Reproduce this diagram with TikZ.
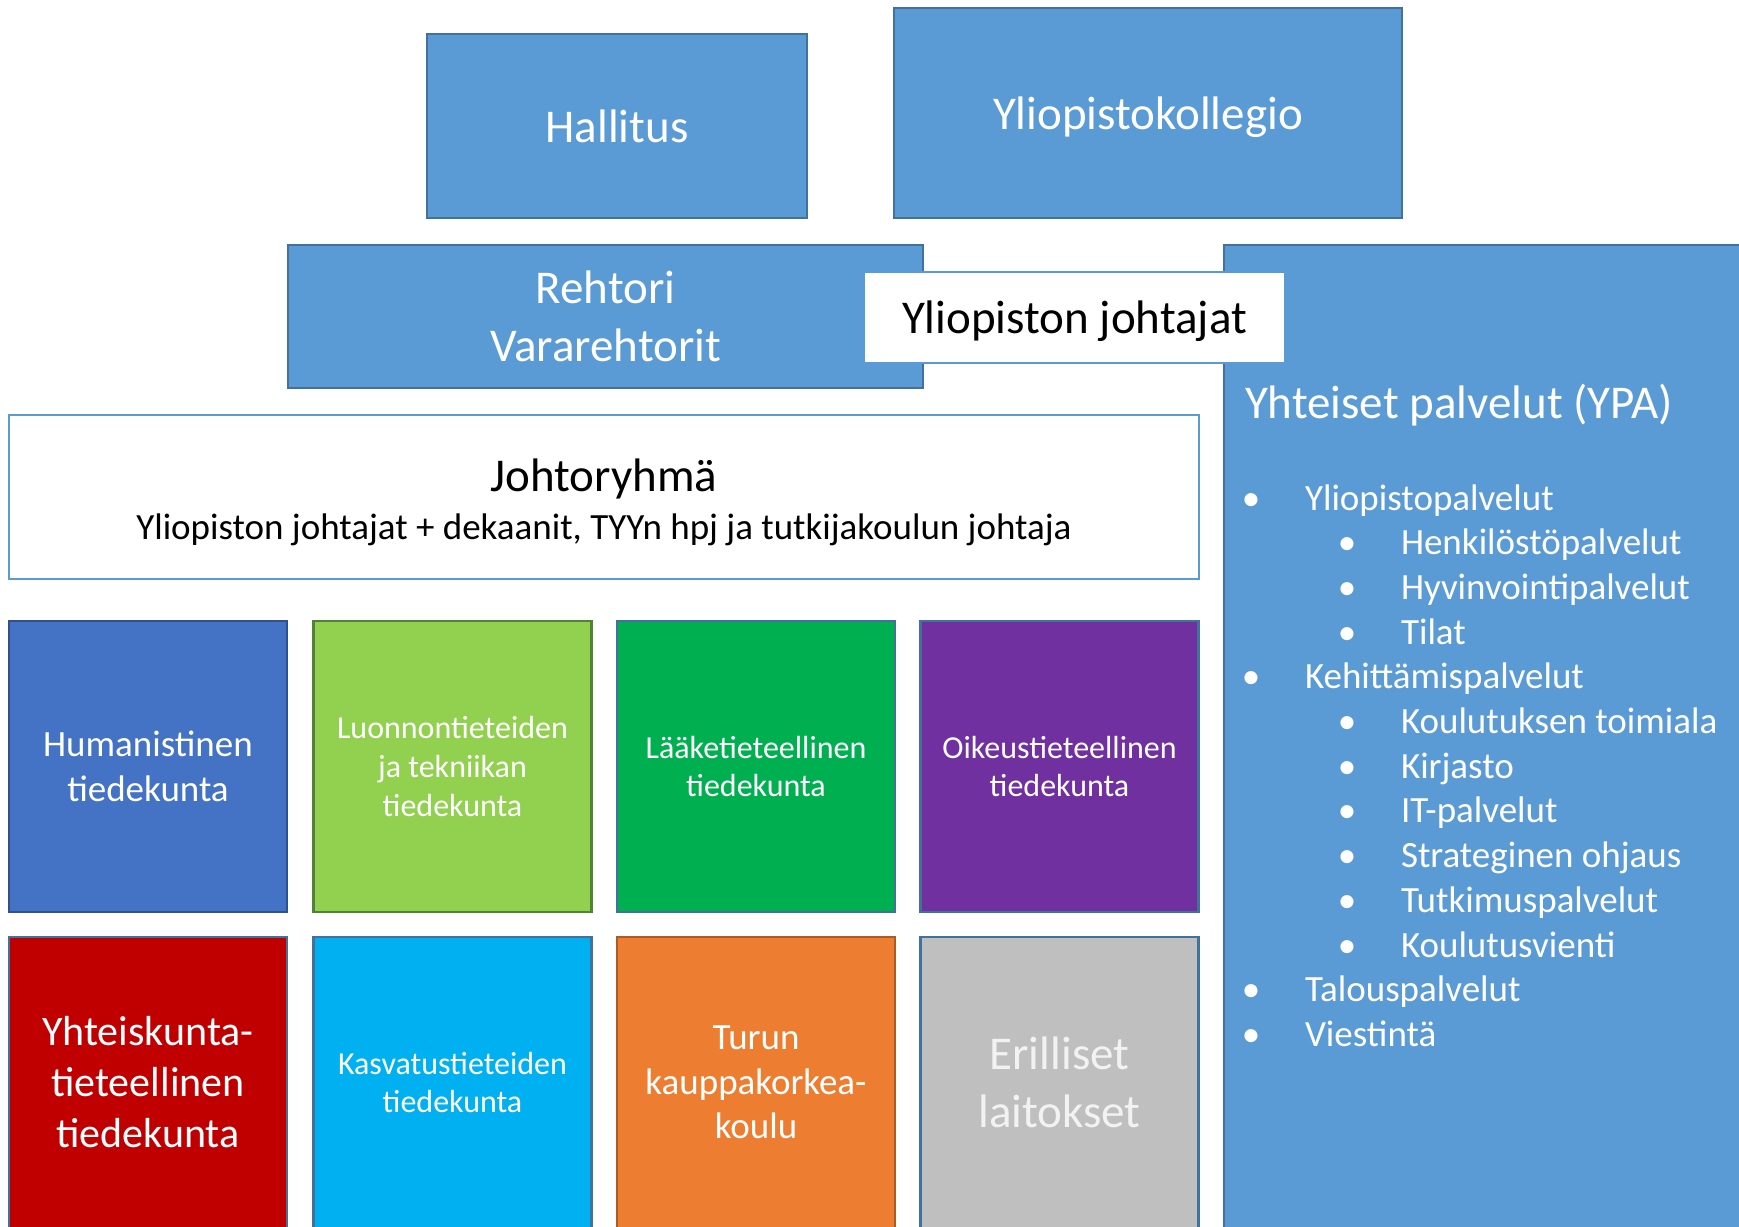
\documentclass[tikz,border=0pt]{standalone}
\usepackage{fontspec}
\setmainfont{Carlito}
\definecolor{ypablue}{HTML}{5B9BD5}
\definecolor{ypaedge}{HTML}{41719C}
\definecolor{humfill}{HTML}{4472C4}
\definecolor{humedge}{HTML}{2F528F}
\definecolor{luofill}{HTML}{92D050}
\definecolor{luoedge}{HTML}{538135}
\definecolor{laafill}{HTML}{00B050}
\definecolor{oikfill}{HTML}{7030A0}
\definecolor{yhtfill}{HTML}{C00000}
\definecolor{kasfill}{HTML}{00B0F0}
\definecolor{tkkfill}{HTML}{ED7D31}
\definecolor{tkkedge}{HTML}{AE5A21}
\definecolor{erifill}{HTML}{BFBFBF}
\definecolor{eritext}{HTML}{F2F2F2}
\newcommand{\fsbig}{\fontsize{23.5}{29}\selectfont}
\newcommand{\fsyht}{\fontsize{21}{25.5}\selectfont}
\newcommand{\fsmid}{\fontsize{18.5}{22.2}\selectfont}
\newcommand{\fssmall}{\fontsize{16}{19.3}\selectfont}
\begin{document}
\begin{tikzpicture}[x=0.5pt, y=-0.5pt, inner sep=0pt, outer sep=0pt,
  orgbox/.style={draw=ypaedge, fill=ypablue, line width=1.3pt, text=white, font=\fsbig, align=center},
  facbox/.style={draw=ypaedge, line width=1.3pt, text=white, align=center, minimum width=139pt, minimum height=145.5pt},
  ypaitem/.style={anchor=base west, text=white, font=\fsmid},
  ypadot/.style={anchor=base, text=white, font=\fsmid}]
\useasboundingbox (0,0) rectangle (1739,1226);
\clip (0,0) rectangle (1739,1226);

% hallinto
\node[orgbox, minimum width=190pt, minimum height=92pt] (hallitus) at (617,126) {Hallitus};
\node[orgbox, text depth=0pt, minimum width=254pt, minimum height=105pt] (kollegio) at (1148,113) {Yliopistokollegio};
\node[orgbox, minimum width=317.5pt, minimum height=71.5pt] (rehtori) at (605.5,316.5) {Rehtori\\Vararehtorit};
\node[orgbox, minimum width=268pt, minimum height=502.5pt] (ypa) at (1492,747.5) {};
\node[draw=ypablue, fill=white, line width=1pt, font=\fsbig, text depth=0pt, minimum width=210.5pt, minimum height=45.5pt] (johtajat) at (1074.5,317.5) {Yliopiston johtajat};

% johtoryhma
\node[draw=ypablue, fill=white, line width=1.3pt, minimum width=595pt, minimum height=82pt] (johto) at (604,497) {};
\node[font=\fsbig, text depth=0pt] (johto-title) at (604,475) {Johtoryhmä};
\node[font=\fsmid, text depth=0pt] (johto-sub) at (604,527) {Yliopiston johtajat + dekaanit, TYYn hpj ja tutkijakoulun johtaja};

% tiedekunnat
\node[facbox, draw=humedge, fill=humfill, font=\fsmid] (hum) at (148,766.5) {Humanistinen\\tiedekunta};
\node[facbox, draw=luoedge, fill=luofill, font=\fssmall] (luo) at (452.5,766.5) {Luonnontieteiden\\ja tekniikan\\tiedekunta};
\node[facbox, fill=laafill, font=\fssmall] (laa) at (756,766.5) {Lääketieteellinen\\tiedekunta};
\node[facbox, fill=oikfill, font=\fssmall] (oik) at (1059.5,766.5) {Oikeustieteellinen\\tiedekunta};
\node[facbox, fill=yhtfill, font=\fsyht] (yht) at (148,1082.5) {Yhteiskunta-\\tieteellinen\\tiedekunta};
\node[facbox, fill=kasfill, font=\fssmall] (kas) at (452.5,1082.5) {Kasvatustieteiden\\tiedekunta};
\node[facbox, draw=tkkedge, fill=tkkfill, font=\fsmid] (tkk) at (756,1082.5) {Turun\\kauppakorkea-\\koulu};
\node[facbox, fill=erifill, text=eritext, font=\fsbig] (eri) at (1059.5,1082.5) {Erilliset\\laitokset};

% yhteiset palvelut
\node[anchor=base west, text=white, font=\fsbig] (ypa-title) at (1245,418) {Yhteiset palvelut (YPA)};
\foreach \lvl/\txt [count=\i from 0] in {1/Yliopistopalvelut, 2/Henkilöstöpalvelut, 2/Hyvinvointipalvelut, 2/Tilat, 1/Kehittämispalvelut, 2/Koulutuksen toimiala, 2/Kirjasto, 2/IT-palvelut, 2/Strateginen ohjaus, 2/Tutkimuspalvelut, 2/Koulutusvienti, 1/Talouspalvelut, 1/Viestintä}
{
  \pgfmathsetmacro{\bx}{1251+96*(\lvl-1)}
  \pgfmathsetmacro{\by}{510+44.7*\i}
  \node[ypadot] (dot-\i) at (\bx,\by) {\textbullet};
  \node[ypaitem] (item-\i) at (\bx+54,\by) {\txt};
}
\end{tikzpicture}
\end{document}
